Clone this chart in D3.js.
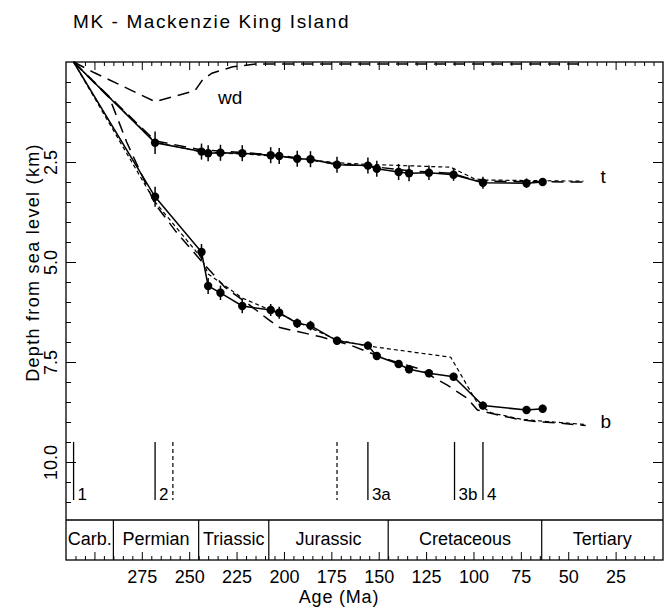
<!DOCTYPE html>
<html>
<head>
<meta charset="utf-8">
<script src="https://cdn.jsdelivr.net/npm/d3@7"></script>
<style>
  body { margin: 0; background: #fff; }
  svg text { font-family: "Liberation Sans", Arial, Helvetica, sans-serif; fill: #000; }
</style>
</head>
<body>
<div id="chart-holder"></div>
<script>
// sample ages (Ma) shared by both observed curves
var ages = [268, 243.5, 240, 233.5, 222, 207, 202.5, 193, 186, 172, 155.7, 151, 139.5, 134, 123.5, 110.5, 95, 72, 63.5];
// tectonic (t) and total basement (b) subsidence, km
var tDepth = [2.02, 2.24, 2.28, 2.27, 2.28, 2.33, 2.35, 2.42, 2.43, 2.57, 2.59, 2.67, 2.75, 2.78, 2.77, 2.82, 3.02, 3.03, 3.0];
var tErr = [0.28, 0.2, 0.2, 0.2, 0.2, 0.2, 0.2, 0.2, 0.2, 0.2, 0.2, 0.2, 0.2, 0.2, 0.18, 0.15, 0.15, 0.12, 0.1];
var bDepth = [3.37, 4.75, 5.6, 5.77, 6.1, 6.2, 6.27, 6.53, 6.59, 6.97, 7.09, 7.35, 7.55, 7.68, 7.78, 7.87, 8.59, 8.7, 8.67];
var bErr = [0.25, 0.2, 0.2, 0.18, 0.18, 0.15, 0.15, 0.12, 0.12, 0.1, 0.1, 0.1, 0.1, 0.1, 0.1, 0.1, 0.1, 0.1, 0.1];
var startAge = 311;

// model curves [age, depth]
var longT = [[311, 0], [268, 1.97], [243.5, 2.2], [222, 2.26], [200, 2.35], [172, 2.55], [155.7, 2.6], [134, 2.72], [112, 2.78], [98, 2.97], [80, 2.99], [42, 3.0]];
var shortT = [[311, 0], [268, 2.0], [243.5, 2.25], [222, 2.3], [200, 2.37], [172, 2.52], [155.7, 2.56], [112, 2.63], [99.6, 2.92], [94.5, 2.95], [42, 2.98]];
var longB = [[311, 0], [292, 0.9], [283, 2.0], [268, 3.55], [257, 4.24], [243.7, 4.97], [231.2, 5.63], [218.8, 6.05], [208.5, 6.43], [202.2, 6.64], [192.7, 6.74], [180.6, 6.87], [164.8, 7.08], [147, 7.41], [129.4, 7.66], [113.8, 8.08], [103.2, 8.41], [97.9, 8.7], [89.1, 8.8], [76.8, 8.93], [64.6, 9.0], [55.7, 9.02], [40.8, 9.09]];
var shortB = [[311, 0], [268, 3.5], [243.5, 4.9], [240, 5.3], [222, 5.9], [200, 6.35], [172, 6.95], [155.7, 7.1], [112, 7.38], [97.9, 8.53], [90.7, 8.77], [75, 8.93], [61, 8.99], [41, 9.06]];
var wd = [[311, 0], [300, 0.27], [268, 0.99], [247, 0.72], [243, 0.45], [238, 0.28], [227, 0.12], [215, 0.05], [42, 0.05]];

// events along the bottom
var eventAges = [311, 268, 155.7, 110, 95];
var eventLabels = ['1', '2', '3a', '3b', '4'];
var dashedEventAges = [258.6, 172];

// geological periods
var periodNames = ['Carb.', 'Permian', 'Triassic', 'Jurassic', 'Cretaceous', 'Tertiary'];
var periodStart = [315, 290, 245, 208, 145, 64];
var periodEnd = [290, 245, 208, 145, 64, 0];

var curveLabels = [{ text: 'wd', age: 234.8, depth: 1.04 }, { text: 't', age: 33, depth: 3.03 }, { text: 'b', age: 33, depth: 9.14 }];

var xMajor = d3.range(25, 301, 25);
var xMinor = d3.range(5, 315, 5).filter(function (d) { return d % 25 !== 0; });
var xLabels = d3.range(25, 276, 25);
var yMajor = [2.5, 5, 7.5, 10];
var yMinor = d3.range(0.5, 11.01, 0.5).filter(function (d) { return yMajor.indexOf(d) < 0; });

var width = 671, height = 611,
    plotLeft = 66, plotRight = 663, plotTop = 62, plotBottom = 560, bandTop = 520;

var svg = d3.select('#chart-holder').append('svg')
    .attr('width', width).attr('height', height);

var x = d3.scaleLinear().domain([315, 0]).range([plotLeft, plotRight]);
var y = d3.scaleLinear().domain([0, 12.45]).range([plotTop, plotBottom]);

svg.append('text')
    .attr('x', 73).attr('y', 28)
    .style('font-size', '19px').style('letter-spacing', '1.6px')
    .text('MK - Mackenzie King Island');

// axes: ticks point inward on all four sides
function styleAxis(g) {
    g.select('.domain').remove();
    g.selectAll('line').attr('stroke', '#000').attr('stroke-width', 1);
}
svg.append('g').attr('transform', 'translate(0,' + plotBottom + ')')
    .call(d3.axisBottom(x).tickValues(xMinor).tickSize(-4).tickFormat(''))
    .call(styleAxis);
svg.append('g').attr('transform', 'translate(0,' + plotBottom + ')')
    .call(d3.axisBottom(x).tickValues(xMajor).tickSize(-8).tickFormat(''))
    .call(styleAxis);
svg.append('g').attr('transform', 'translate(0,' + plotBottom + ')')
    .call(d3.axisBottom(x).tickValues(xLabels).tickSize(0).tickPadding(10).tickFormat(d3.format('d')))
    .call(styleAxis)
    .selectAll('text').style('font-size', '18px').attr('font-family', null);
svg.append('g').attr('transform', 'translate(0,' + plotTop + ')')
    .call(d3.axisTop(x).tickValues(xMinor).tickSize(-4).tickFormat(''))
    .call(styleAxis);
svg.append('g').attr('transform', 'translate(0,' + plotTop + ')')
    .call(d3.axisTop(x).tickValues(xMajor).tickSize(-8).tickFormat(''))
    .call(styleAxis);

svg.append('g').attr('transform', 'translate(' + plotLeft + ',0)')
    .call(d3.axisLeft(y).tickValues(yMinor).tickSize(-5).tickFormat(''))
    .call(styleAxis);
svg.append('g').attr('transform', 'translate(' + plotLeft + ',0)')
    .call(d3.axisLeft(y).tickValues(yMajor).tickSize(-10).tickFormat(d3.format('.1f')))
    .call(styleAxis)
    .selectAll('text')
    .attr('x', null).attr('dy', null)
    .attr('text-anchor', 'middle')
    .attr('transform', 'translate(-9,0) rotate(-90)')
    .style('font-size', '18px').attr('font-family', null);
svg.append('g').attr('transform', 'translate(' + plotRight + ',0)')
    .call(d3.axisRight(y).tickValues(yMinor).tickSize(-5).tickFormat(''))
    .call(styleAxis);
svg.append('g').attr('transform', 'translate(' + plotRight + ',0)')
    .call(d3.axisRight(y).tickValues(yMajor).tickSize(-10).tickFormat(''))
    .call(styleAxis);

svg.append('text')
    .attr('transform', 'translate(39,' + ((150 + 375) / 2) + ') rotate(-90)')
    .attr('text-anchor', 'middle')
    .style('font-size', '18px').style('letter-spacing', '1.3px')
    .text('Depth from sea level (km)');
svg.append('text')
    .attr('x', 339).attr('y', 603)
    .attr('text-anchor', 'middle')
    .style('font-size', '18px').style('letter-spacing', '0.8px')
    .text('Age (Ma)');

// frame and period band
svg.append('rect')
    .attr('x', plotLeft).attr('y', plotTop)
    .attr('width', plotRight - plotLeft).attr('height', plotBottom - plotTop)
    .attr('fill', 'none').attr('stroke', '#000').attr('stroke-width', 1.3);
svg.append('line')
    .attr('x1', plotLeft).attr('x2', plotRight).attr('y1', bandTop).attr('y2', bandTop)
    .attr('stroke', '#000').attr('stroke-width', 1.3);
svg.selectAll('.period-edge')
    .data(periodStart.slice(1))
    .enter().append('line')
    .attr('class', 'period-edge')
    .attr('x1', function (d) { return x(d); }).attr('x2', function (d) { return x(d); })
    .attr('y1', bandTop).attr('y2', plotBottom)
    .attr('stroke', '#000').attr('stroke-width', 1.2);
svg.selectAll('.period-name')
    .data(periodNames)
    .enter().append('text')
    .attr('class', 'period-name')
    .attr('x', function (d, i) { return x((periodStart[i] + periodEnd[i]) / 2); })
    .attr('y', 545)
    .attr('text-anchor', 'middle')
    .style('font-size', '18px')
    .text(function (d) { return d; });

// event markers
var evTop = y(9.5), evBottom = y(10.95);
svg.selectAll('.event')
    .data(eventAges)
    .enter().append('line')
    .attr('class', 'event')
    .attr('x1', function (d) { return x(d); }).attr('x2', function (d) { return x(d); })
    .attr('y1', evTop).attr('y2', evBottom)
    .attr('stroke', '#000').attr('stroke-width', 1.3);
svg.selectAll('.event-dash')
    .data(dashedEventAges)
    .enter().append('line')
    .attr('class', 'event-dash')
    .attr('x1', function (d) { return x(d); }).attr('x2', function (d) { return x(d); })
    .attr('y1', evTop).attr('y2', evBottom)
    .attr('stroke', '#000').attr('stroke-width', 1.2)
    .attr('stroke-dasharray', '4,3');
svg.selectAll('.event-label')
    .data(eventLabels)
    .enter().append('text')
    .attr('class', 'event-label')
    .attr('x', function (d, i) { return x(eventAges[i]) + 4; })
    .attr('y', evBottom)
    .style('font-size', '17px')
    .text(function (d) { return d; });

// curves
var line = d3.line()
    .x(function (d) { return x(d[0]); })
    .y(function (d) { return y(d[1]); });

function drawCurve(pts, dash, w) {
    svg.append('path')
        .datum(pts)
        .attr('d', line)
        .attr('fill', 'none')
        .attr('stroke', '#000')
        .attr('stroke-width', w)
        .attr('stroke-dasharray', dash);
}
drawCurve(wd, '12,7', 1.5);
drawCurve(longT, '12,7', 1.5);
drawCurve(longB, '12,7', 1.5);
drawCurve(shortT, '4,3', 1.2);
drawCurve(shortB, '4,3', 1.2);

function drawObserved(depths, errs) {
    var pts = [[startAge, 0]].concat(ages.map(function (a, i) { return [a, depths[i]]; }));
    drawCurve(pts, null, 1.5);
    var g = svg.append('g');
    g.selectAll('line')
        .data(ages)
        .enter().append('line')
        .attr('x1', function (d) { return x(d); }).attr('x2', function (d) { return x(d); })
        .attr('y1', function (d, i) { return y(depths[i] - errs[i]); })
        .attr('y2', function (d, i) { return y(depths[i] + errs[i]); })
        .attr('stroke', '#000').attr('stroke-width', 1.5);
    g.selectAll('circle')
        .data(ages)
        .enter().append('circle')
        .attr('cx', function (d) { return x(d); })
        .attr('cy', function (d, i) { return y(depths[i]); })
        .attr('r', 4.2)
        .attr('fill', '#000');
}
drawObserved(tDepth, tErr);
drawObserved(bDepth, bErr);

svg.selectAll('.curve-label')
    .data(curveLabels)
    .enter().append('text')
    .attr('class', 'curve-label')
    .attr('x', function (d) { return x(d.age); })
    .attr('y', function (d) { return y(d.depth); })
    .style('font-size', '19px')
    .text(function (d) { return d.text; });
</script>
</body>
</html>
